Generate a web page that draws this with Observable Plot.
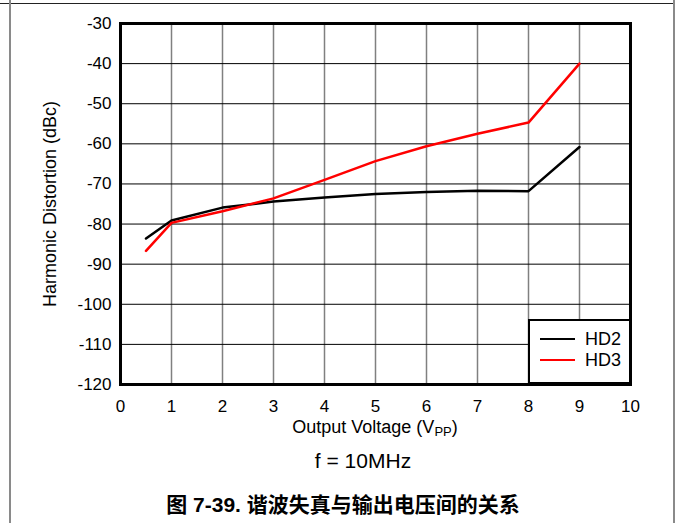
<!DOCTYPE html>
<html><head><meta charset="utf-8">
<script src="https://cdn.jsdelivr.net/npm/d3@7"></script>
<script src="https://cdn.jsdelivr.net/npm/@observablehq/plot@0.6"></script>
<style>
body{margin:0;background:#fff;font-family:"Liberation Sans",Arial,sans-serif;}
#wrap{position:relative;width:676px;height:523px;overflow:hidden;}
#topline{position:absolute;left:0;top:3px;width:675px;height:1px;background:#222;}
#leftline{position:absolute;left:9px;top:0;width:2px;height:523px;background:#8a8a8a;}
#rightline{position:absolute;left:673px;top:0;width:2px;height:523px;background:#8a8a8a;}
#chart{position:absolute;left:0;top:0;}
#legend{position:absolute;left:528px;top:319px;width:99px;height:61px;border:2px solid #000;background:#fff;font-size:18px;}
.row{position:absolute;left:10px;display:flex;align-items:center;line-height:20px;}
.sw{width:35px;height:2.5px;margin-right:10px;}
#sub{position:absolute;top:449px;left:0;width:726px;text-align:center;font-size:21px;}
#cap{position:absolute;top:488px;left:0;width:686px;text-align:center;font-size:21px;font-weight:bold;font-family:"Liberation Sans","Noto Sans CJK SC",sans-serif;}
</style></head>
<body>
<div id="wrap">
<div id="chart"></div>
<div id="topline"></div><div id="leftline"></div><div id="rightline"></div>
<div id="legend"></div>
<div id="sub">f = 10MHz</div>
<div id="cap">图 7-39. 谐波失真与输出电压间的关系</div>
</div>
<script>
const voltage = [0.5, 1, 2, 3, 4, 5, 6, 7, 8, 9];
const hd2 = [-83.6, -79.1, -75.9, -74.4, -73.4, -72.5, -72.0, -71.7, -71.8, -60.8];
const hd3 = [-86.7, -79.7, -76.8, -73.6, -69.0, -64.3, -60.6, -57.5, -54.7, -40.0];
const seriesNames = ["HD2", "HD3"];
const seriesColors = ["#000000", "#ff0000"];
const xTicks = [0,1,2,3,4,5,6,7,8,9,10];
const yTicks = [-30,-40,-50,-60,-70,-80,-90,-100,-110,-120];

const data = [];
voltage.forEach((v,i)=>{
  data.push({v, val: hd2[i], s: seriesNames[0]});
  data.push({v, val: hd3[i], s: seriesNames[1]});
});

const chart = Plot.plot({
  width: 676, height: 440,
  marginLeft: 120, marginRight: 46, marginTop: 23, marginBottom: 56,
  style: {fontFamily: '"Liberation Sans", Arial, sans-serif', fontSize: "17px", color: "#000", background: "transparent"},
  x: {domain: [0, 10], ticks: xTicks},
  y: {domain: [-120, -30], ticks: yTicks},
  color: {domain: seriesNames, range: seriesColors},
  marks: [
    Plot.gridX(xTicks, {stroke: "#808080", strokeOpacity: 1, strokeWidth: 1.5}),
    Plot.gridY(yTicks, {stroke: "#000", strokeOpacity: 1, strokeWidth: 1}),
    Plot.axisX({ticks: xTicks, tickSize: 0, tickPadding: 15, label: null, fontSize: 17, tickFormat: d => String(d)}),
    Plot.axisY({ticks: yTicks, tickSize: 0, tickPadding: 9, label: "Harmonic Distortion (dBc)", labelAnchor: "center", labelArrow: "none", labelOffset: 77, fontSize: 18, tickFormat: d => String(d)}),
    Plot.line(data, {x: "v", y: "val", z: "s", stroke: "s", strokeWidth: 2.5}),
    Plot.frame({stroke: "#000", strokeWidth: 3})
  ]
});
document.getElementById("chart").appendChild(chart);
// tick labels at 17px, axis title 18px
d3.select(chart).selectAll("g[aria-label='y-axis tick label'] text, g[aria-label='x-axis tick label'] text").attr("font-size", 17);

// x axis title with subscript
const svg = d3.select(chart);
const t = svg.append("text")
  .attr("x", 375).attr("y", 433)
  .attr("text-anchor", "middle")
  .attr("font-size", 18)
  .attr("fill", "#000");
t.append("tspan").text("Output Voltage (V");
t.append("tspan").attr("font-size", 13).attr("dy", 3).text("PP");
t.append("tspan").attr("dy", -3).text(")");

// legend
const leg = document.getElementById("legend");
seriesNames.forEach((n,i)=>{
  const r = document.createElement("div");
  r.className = "row";
  r.style.top = (8 + i*21) + "px";
  r.innerHTML = `<span class="sw" style="background:${seriesColors[i]}"></span><span>${n}</span>`;
  leg.appendChild(r);
});
</script>
</body></html>
